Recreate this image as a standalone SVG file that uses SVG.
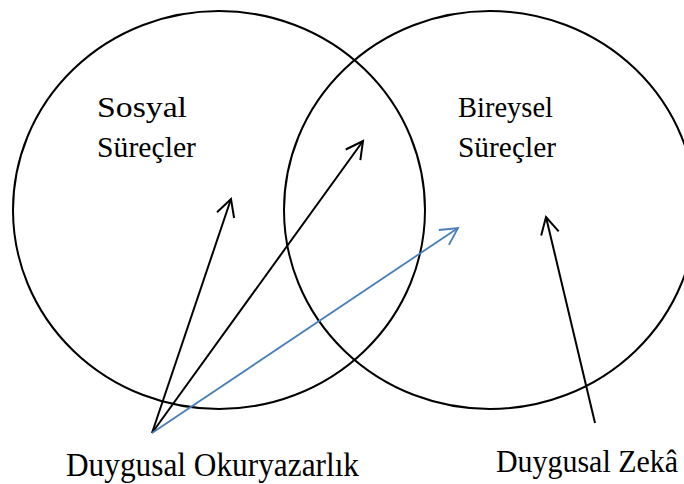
<svg xmlns="http://www.w3.org/2000/svg" width="684" height="484" viewBox="0 0 684 484">
<style>
.circ{fill:none;stroke:#000;stroke-width:2}
.lbl{font-family:"Liberation Serif","Times New Roman",serif;fill:#000}
.in{font-size:29px}
.out{font-size:33px}
.blk{stroke:#000;stroke-width:2;fill:none}
.blu{stroke:#4A7EBB;stroke-width:1.8;fill:none}
</style>
<defs>
<marker id="ab" markerUnits="userSpaceOnUse" markerWidth="40" markerHeight="40" refX="0" refY="0" viewBox="-20 -20 40 40" orient="auto" overflow="visible">
<path d="M-17,-9 L0,0 L-17,9" fill="none" stroke="#000" stroke-width="2"/>
</marker>
<marker id="au" markerUnits="userSpaceOnUse" markerWidth="40" markerHeight="40" refX="0" refY="0" viewBox="-20 -20 40 40" orient="auto" overflow="visible">
<path d="M-17,-9 L0,0 L-17,9" fill="none" stroke="#4A7EBB" stroke-width="1.8"/>
</marker>
</defs>
<g id="sosyal">
<ellipse class="circ" cx="219" cy="210" rx="206" ry="199"/>
<text class="lbl in" x="97" y="117" textLength="90" lengthAdjust="spacingAndGlyphs">Sosyal</text>
<text class="lbl in" x="97" y="157" textLength="99" lengthAdjust="spacingAndGlyphs">Süreçler</text>
</g>
<g id="bireysel">
<ellipse class="circ" cx="490" cy="210" rx="206" ry="199"/>
<text class="lbl in" x="458" y="117" textLength="95" lengthAdjust="spacingAndGlyphs">Bireysel</text>
<text class="lbl in" x="458" y="157" textLength="98" lengthAdjust="spacingAndGlyphs">Süreçler</text>
</g>
<g id="okuryazarlik">
<text class="lbl out" x="66" y="476" textLength="293" lengthAdjust="spacingAndGlyphs">Duygusal Okuryazarlık</text>
</g>
<g id="zeka">
<text class="lbl" font-size="30.5" x="496" y="472" textLength="182" lengthAdjust="spacingAndGlyphs">Duygusal Zekâ</text>
</g>
<g id="connectors">
<line class="blk" x1="152" y1="433" x2="231" y2="199" marker-end="url(#ab)"/>
<line class="blk" x1="152" y1="433" x2="363" y2="141" marker-end="url(#ab)"/>
<line class="blu" x1="152" y1="433" x2="458" y2="228" marker-end="url(#au)"/>
<line class="blk" x1="595" y1="423" x2="546" y2="217" marker-end="url(#ab)"/>
</g>
</svg>
